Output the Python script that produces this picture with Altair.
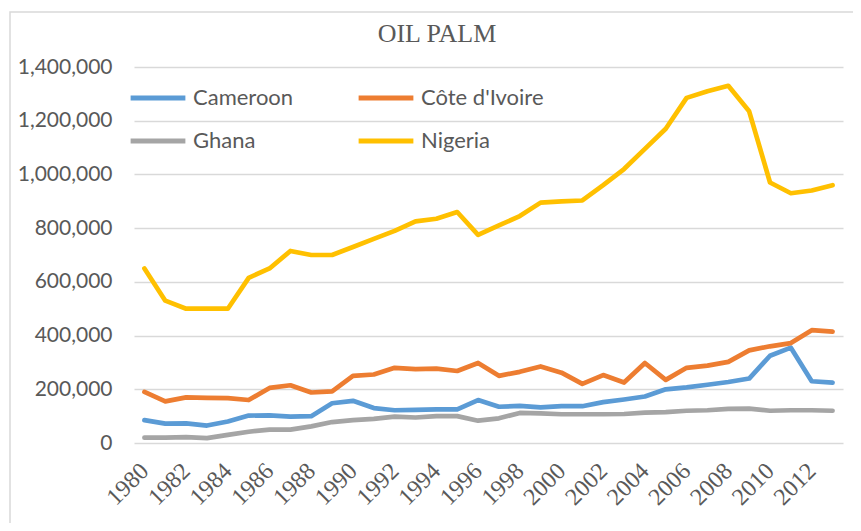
import altair as alt
import pandas as pd

years = list(range(1980, 2014))
countries = ["Cameroon", "Côte d'Ivoire", "Ghana", "Nigeria"]
colors = ["#5b9bd5", "#ed7d31", "#a5a5a5", "#ffc000"]
# legend is filled column by column, so list entries in that order
legend_order = ["Cameroon", "Ghana", "Côte d'Ivoire", "Nigeria"]
legend_colors = ["#5b9bd5", "#a5a5a5", "#ed7d31", "#ffc000"]

cameroon = [85000, 72000, 73000, 65000, 80000, 102000, 103000, 98000, 100000, 148000,
            157000, 130000, 122000, 123000, 125000, 125000, 160000, 135000, 138000, 133000,
            137000, 137000, 152000, 162000, 173000, 200000, 207000, 217000, 227000, 240000,
            325000, 355000, 230000, 225000]
cote = [190000, 155000, 170000, 168000, 167000, 160000, 205000, 215000, 188000, 192000,
        250000, 255000, 280000, 275000, 277000, 268000, 298000, 250000, 265000, 285000,
        262000, 220000, 253000, 225000, 298000, 235000, 280000, 288000, 302000, 345000,
        360000, 372000, 420000, 415000]
ghana = [20000, 20000, 22000, 18000, 30000, 42000, 50000, 50000, 62000, 78000,
         85000, 90000, 98000, 95000, 100000, 100000, 83000, 92000, 112000, 110000,
         107000, 107000, 107000, 108000, 113000, 115000, 120000, 122000, 127000, 128000,
         120000, 122000, 122000, 120000]
nigeria = [650000, 530000, 500000, 500000, 500000, 615000, 650000, 715000, 700000, 700000,
           730000, 760000, 790000, 825000, 835000, 860000, 775000, 810000, 845000, 895000,
           900000, 903000, 960000, 1020000, 1095000, 1170000, 1285000, 1310000, 1330000, 1235000,
           970000, 930000, 940000, 960000]

series = {"Cameroon": cameroon, "Côte d'Ivoire": cote, "Ghana": ghana, "Nigeria": nigeria}
rows = []
for c in countries:
    for y, v in zip(years, series[c]):
        rows.append({"Year": y, "Country": c, "Value": v})
df = pd.DataFrame(rows)

x_ticks = list(range(1980, 2013, 2))
y_ticks = list(range(0, 1400001, 200000))

lines = alt.Chart(df).mark_line(strokeWidth=4.7, strokeJoin="round", strokeCap="round").encode(
    x=alt.X("Year:Q", scale=alt.Scale(domain=[1979.5, 2013.5], nice=False, zero=False),
            axis=alt.Axis(values=x_ticks, format="d", title=None, labelAngle=-45,
                          labelAlign="right", labelBaseline="middle", labelPadding=24,
                          labelFont="Liberation Serif", labelFontSize=24, labelColor="#595959",
                          domain=False, ticks=False, grid=False, labelOverlap=False)),
    y=alt.Y("Value:Q", scale=alt.Scale(domain=[0, 1400000], nice=False),
            axis=alt.Axis(values=y_ticks, format=",.0f", title=None, labelPadding=22,
                          labelFont="Lato", labelFontSize=21, labelColor="#595959",
                          domain=False, ticks=False, grid=True, gridColor="#d9d9d9",
                          gridWidth=1.3)),
    color=alt.Color("Country:N",
                    scale=alt.Scale(domain=legend_order, range=legend_colors),
                    legend=alt.Legend(title=None, orient="none", legendX=-6, legendY=1,
                                      columns=2, columnPadding=54, rowPadding=2,
                                      symbolType="stroke", symbolSize=3000,
                                      symbolStrokeWidth=5, labelFont="Lato",
                                      labelFontSize=22, labelColor="#595959",
                                      labelOffset=5)),
    order=alt.Order("Year:Q"),
)

border = alt.Chart(pd.DataFrame({"a": [0]})).mark_rect(
    fill=None, stroke="#d9d9d9", strokeWidth=1.5
).encode(x=alt.value(-124), x2=alt.value(726), y=alt.value(-55), y2=alt.value(480))

title = alt.Chart(pd.DataFrame({"t": ["OIL PALM"]})).mark_text(
    font="Liberation Serif", fontSize=26, color="#595959", align="center", baseline="middle"
).encode(text="t:N", x=alt.value(303), y=alt.value(-33))

chart = alt.layer(border, title, lines).properties(
    width=709, height=376,
    autosize=alt.AutoSizeParams(type="none"),
    padding={"left": 126, "top": 59, "right": 10, "bottom": 80},
).configure_view(stroke=None)

chart.save("out.html", embed_options={"renderer": "svg", "actions": False})
